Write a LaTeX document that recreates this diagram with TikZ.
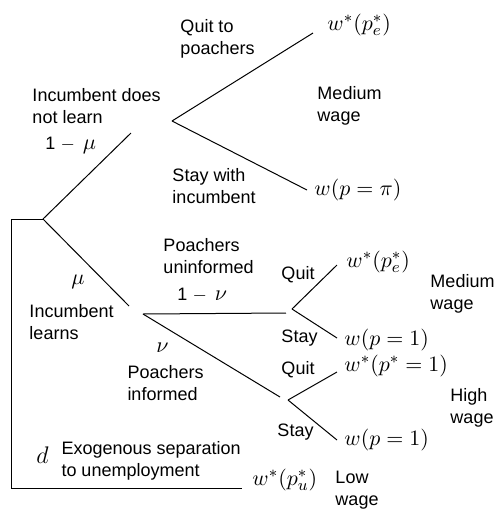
\documentclass[tikz,border=0pt]{standalone}
\usepackage{fontspec}
\setsansfont{Liberation Sans}

\begin{document}
\begin{tikzpicture}[x=0.5pt, y=-0.5pt, line width=0.5pt,
  txt/.style={font=\sffamily\fontsize{9}{11}\selectfont, align=left, anchor=west, inner sep=0pt},
  pay/.style={font=\fontsize{11}{13}\selectfont, anchor=west, inner sep=0pt}]
  \useasboundingbox (0,0) rectangle (496,511);
  % Branch points
  \coordinate (root) at (43,219);
  \coordinate (nlend) at (131,133);
  \coordinate (nl) at (172,121);
  \coordinate (lend) at (129,306);
  \coordinate (l) at (143,314);
  \coordinate (uend) at (286,313);
  \coordinate (u) at (292,309);
  \coordinate (iend) at (280,397);
  \coordinate (i) at (288,400);
  \coordinate (corner) at (12,219);
  \coordinate (low) at (12,488);
  \coordinate (lowend) at (242,488);
  % Branch ends
  \coordinate (nlq) at (313,33);
  \coordinate (nls) at (307,190);
  \coordinate (uq) at (337,265);
  \coordinate (us) at (337,338);
  \coordinate (iq) at (337,372);
  \coordinate (is) at (337,440);
  % Incumbent does not learn
  \draw (root) -- (nlend);
  \draw (nl) -- (nlq);
  \draw (nl) -- (nls);
  \node[txt] (idnl) at (32,106) {Incumbent does\\not learn};
  \node[txt] (omu) at (45,145) {1 $-$ \,{\fontsize{11}{13}\selectfont$\mu$}};
  \node[txt] (qtp) at (180,39) {Quit to\\poachers};
  \node[txt] (swi) at (172,186) {Stay with\\incumbent};
  \node[pay] (wpe1) at (327,25) {$w^{*}(p_e^{*})$};
  \node[pay] (wpi) at (314,190) {$w(p=\pi)$};
  \node[txt] (mw1) at (317,106) {Medium\\wage};
  % Incumbent learns
  \draw (root) -- (lend);
  \node[pay] (mu) at (71,282) {$\mu$};
  \node[txt] (il) at (29,322) {Incumbent\\learns};
  % Poachers uninformed
  \draw (l) -- (uend);
  \draw (u) -- (uq);
  \draw (u) -- (us);
  \node[txt] (pu) at (163,256) {Poachers\\uninformed};
  \node[txt] (omn) at (177,295) {1 $-$ \,{\fontsize{11}{13}\selectfont$\nu$}};
  \node[txt] (q1) at (281,275) {Quit};
  \node[txt] (s1) at (281,338) {Stay};
  \node[pay] (wpe2) at (346,262) {$w^{*}(p_e^{*})$};
  \node[pay] (wp1a) at (344,340) {$w(p=1)$};
  \node[txt] (mw2) at (430,294) {Medium\\wage};
  % Poachers informed
  \draw (l) -- (iend);
  \draw (i) -- (iq);
  \draw (i) -- (is);
  \node[pay] (nu) at (156,348) {$\nu$};
  \node[txt] (pi) at (127,383) {Poachers\\informed};
  \node[txt] (q2) at (281,370) {Quit};
  \node[txt] (s2) at (277,432) {Stay};
  \node[pay] (wps1) at (344,366) {$w^{*}(p^{*}=1)$};
  \node[pay] (wp1b) at (344,440) {$w(p=1)$};
  \node[txt] (hw) at (450,408) {High\\wage};
  % Exogenous separation
  \draw (root) -- (corner) -- (low) -- (lowend);
  \node[pay, font=\fontsize{12}{14}\selectfont] (d) at (36,455) {$d$};
  \node[txt] (exo) at (61,461) {Exogenous separation\\to unemployment};
  \node[pay] (wpu) at (252,480) {$w^{*}(p_u^{*})$};
  \node[txt] (lw) at (335,490) {Low\\wage};
\end{tikzpicture}
\end{document}
